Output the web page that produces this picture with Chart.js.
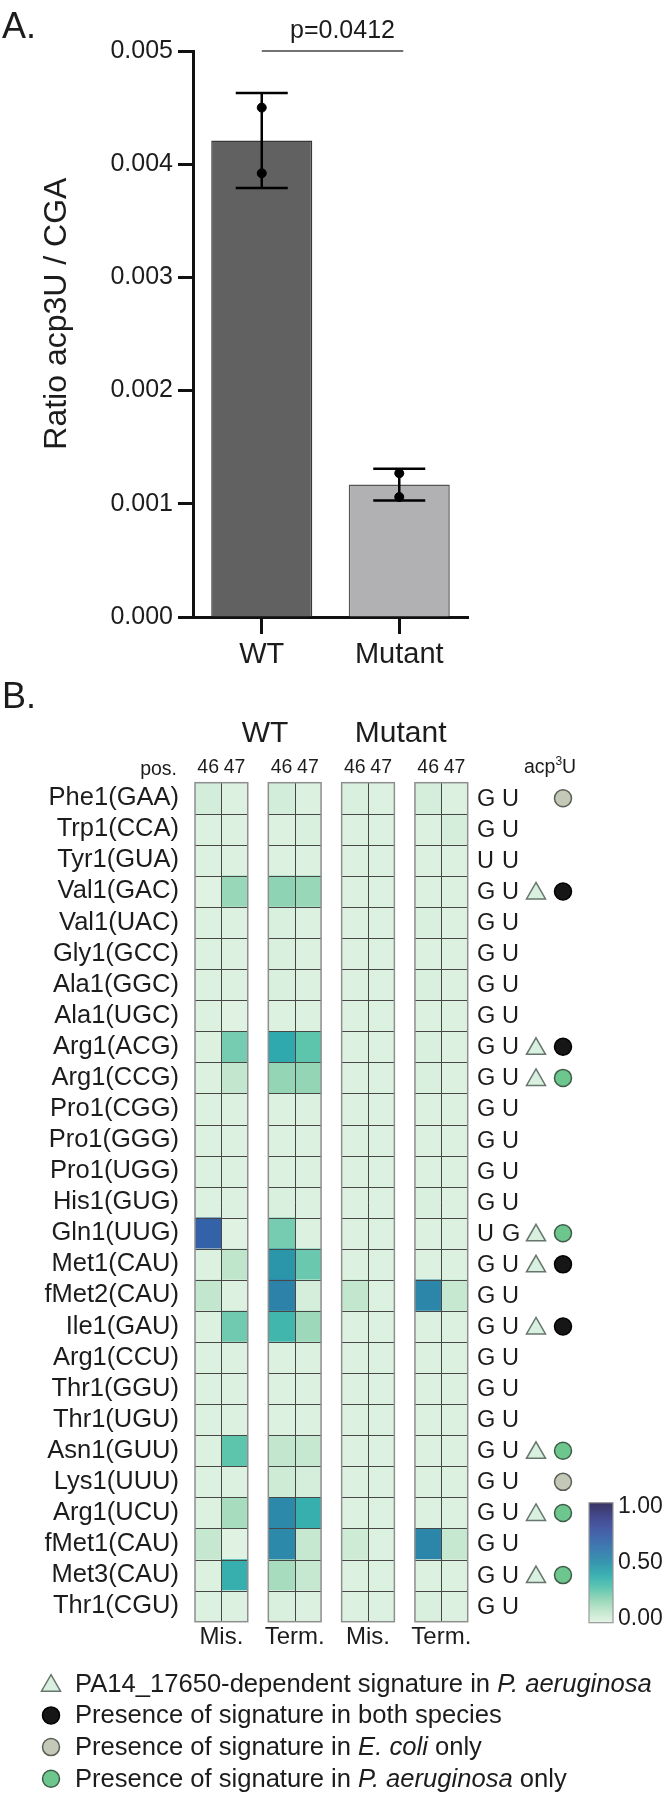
<!DOCTYPE html>
<html>
<head>
<meta charset="utf-8">
<script src="https://cdn.jsdelivr.net/npm/chart.js@4.4.1/dist/chart.umd.min.js"></script>
<style>
  body { margin: 0; background: #fff; }
  #wrap { position: relative; width: 669px; height: 1800px; }
  canvas { position: absolute; left: 0; }
  #ratioChart { top: 0; }
  #heatChart { top: 680px; }
</style>
</head>
<body>
<div id="wrap">
  <canvas id="ratioChart" width="669" height="680"></canvas>
  <canvas id="heatChart" width="669" height="1120"></canvas>
</div>
<script>
// ---- panel A data ----
const groups = ['WT', 'Mutant'];
const ratioMean = [0.00421, 0.00117];
const ratioSD = [0.00042, 0.00014];
const repWT = [0.00450, 0.00392];
const repMutant = [0.00127, 0.00106];
const pLabel = 'p=0.0412';
const yTitleA = 'Ratio acp3U / CGA';

// ---- panel B data ----
const trnaLabels = ['Phe1(GAA)', 'Trp1(CCA)', 'Tyr1(GUA)', 'Val1(GAC)', 'Val1(UAC)', 'Gly1(GCC)',
  'Ala1(GGC)', 'Ala1(UGC)', 'Arg1(ACG)', 'Arg1(CCG)', 'Pro1(CGG)', 'Pro1(GGG)', 'Pro1(UGG)',
  'His1(GUG)', 'Gln1(UUG)', 'Met1(CAU)', 'fMet2(CAU)', 'Ile1(GAU)', 'Arg1(CCU)', 'Thr1(GGU)',
  'Thr1(UGU)', 'Asn1(GUU)', 'Lys1(UUU)', 'Arg1(UCU)', 'fMet1(CAU)', 'Met3(CAU)', 'Thr1(CGU)'];
const conditions = ['WT', 'Mutant'];
const readouts = ['Mis.', 'Term.'];
const positions = ['46', '47'];

const wtMis46 = [0.05, 0.02, 0.02, 0.01, 0.02, 0.02, 0.02, 0.02, 0.02, 0.02, 0.02, 0.02, 0.02, 0.02, 0.70, 0.02, 0.09, 0.02, 0.02, 0.02, 0.02, 0.02, 0.02, 0.02, 0.08, 0.02, 0.02];
const wtMis47 = [0.02, 0.02, 0.02, 0.18, 0.02, 0.02, 0.02, 0.01, 0.24, 0.09, 0.02, 0.02, 0.02, 0.02, 0.01, 0.10, 0.02, 0.25, 0.02, 0.02, 0.02, 0.28, 0.02, 0.15, 0.01, 0.38, 0.02];
const wtTerm46 = [0.05, 0.02, 0.02, 0.20, 0.03, 0.03, 0.03, 0.02, 0.41, 0.19, 0.02, 0.02, 0.02, 0.03, 0.24, 0.48, 0.56, 0.35, 0.02, 0.02, 0.02, 0.09, 0.06, 0.53, 0.53, 0.15, 0.03];
const wtTerm47 = [0.02, 0.03, 0.02, 0.18, 0.02, 0.02, 0.02, 0.02, 0.28, 0.19, 0.02, 0.02, 0.02, 0.02, 0.02, 0.26, 0.04, 0.17, 0.02, 0.02, 0.02, 0.08, 0.04, 0.38, 0.08, 0.08, 0.02];
const mutMis46 = [0.03, 0.02, 0.02, 0.02, 0.02, 0.02, 0.02, 0.02, 0.02, 0.02, 0.02, 0.02, 0.02, 0.02, 0.02, 0.02, 0.09, 0.02, 0.02, 0.02, 0.02, 0.02, 0.02, 0.02, 0.06, 0.02, 0.02];
const mutMis47 = [0.02, 0.02, 0.02, 0.02, 0.02, 0.02, 0.02, 0.02, 0.02, 0.02, 0.02, 0.02, 0.02, 0.02, 0.02, 0.02, 0.02, 0.02, 0.02, 0.02, 0.02, 0.02, 0.02, 0.02, 0.02, 0.02, 0.02];
const mutTerm46 = [0.04, 0.02, 0.02, 0.02, 0.03, 0.02, 0.03, 0.02, 0.03, 0.03, 0.02, 0.02, 0.02, 0.03, 0.02, 0.02, 0.54, 0.02, 0.02, 0.02, 0.02, 0.02, 0.02, 0.02, 0.54, 0.02, 0.03];
const mutTerm47 = [0.02, 0.04, 0.02, 0.02, 0.02, 0.02, 0.02, 0.02, 0.02, 0.02, 0.02, 0.02, 0.02, 0.02, 0.02, 0.02, 0.08, 0.02, 0.02, 0.02, 0.02, 0.02, 0.02, 0.02, 0.08, 0.02, 0.02];

// bases at 46/47
const baseLabels = ['GU', 'GU', 'UU', 'GU', 'GU', 'GU', 'GU', 'GU', 'GU', 'GU', 'GU', 'GU', 'GU',
  'GU', 'UG', 'GU', 'GU', 'GU', 'GU', 'GU', 'GU', 'GU', 'GU', 'GU', 'GU', 'GU', 'GU'];
// 1 = PA14_17650-dependent signature
const depSignature = [0, 0, 0, 1, 0, 0, 0, 0, 1, 1, 0, 0, 0, 0, 1, 1, 0, 1, 0, 0, 0, 1, 0, 1, 0, 1, 0];
// presence of signature: both / ecoli / pa
const presence = ['ecoli', '', '', 'both', '', '', '', '', 'both', 'pa', '', '', '', '', 'pa', 'both',
  '', 'both', '', '', '', 'pa', 'ecoli', 'pa', '', 'pa', ''];
const colorbarTicks = [0, 0.5, 1];

const legendLines = [
  { sym: 'tri', parts: [['PA14_17650-dependent signature in ', false], ['P. aeruginosa', true]] },
  { sym: 'both', parts: [['Presence of signature in both species', false]] },
  { sym: 'ecoli', parts: [['Presence of signature in ', false], ['E. coli', true], [' only', false]] },
  { sym: 'pa', parts: [['Presence of signature in ', false], ['P. aeruginosa', true], [' only', false]] }
];

const FONT = '"Liberation Sans", Arial, Helvetica, sans-serif';
const INK = '#1c1c1c';
Chart.defaults.font.family = FONT;
Chart.defaults.color = INK;

// ---------- Panel A ----------
const errorBars = {
  id: 'errorBars',
  afterDatasetDraw(chart, args) {
    if (args.meta.type !== 'bar') return;
    const { ctx, scales: { x, y } } = chart;
    ctx.save();
    ctx.strokeStyle = '#000';
    ctx.lineWidth = 2.5;
    groups.forEach((g, i) => {
      const px = x.getPixelForValue(i);
      const top = y.getPixelForValue(ratioMean[i] + ratioSD[i]);
      const bot = y.getPixelForValue(ratioMean[i] - ratioSD[i]);
      ctx.beginPath();
      ctx.moveTo(px, top); ctx.lineTo(px, bot);
      ctx.moveTo(px - 26, top); ctx.lineTo(px + 26, top);
      ctx.moveTo(px - 26, bot); ctx.lineTo(px + 26, bot);
      ctx.stroke();
    });
    ctx.restore();
  },
  afterDraw(chart) {
    const { ctx, scales: { x, y } } = chart;
    const ly = y.getPixelForValue(0.005);
    const x1 = x.getPixelForValue(0), x2 = x.getPixelForValue(1) + 4;
    ctx.save();
    ctx.strokeStyle = '#444';
    ctx.lineWidth = 1.5;
    ctx.beginPath(); ctx.moveTo(x1, ly); ctx.lineTo(x2, ly); ctx.stroke();
    ctx.fillStyle = INK;
    ctx.font = '25px ' + FONT;
    ctx.textAlign = 'center';
    ctx.textBaseline = 'alphabetic';
    ctx.fillText(pLabel, (x1 + x2) / 2 + 10, ly - 13);
    ctx.font = '36px ' + FONT;
    ctx.textAlign = 'left';
    ctx.fillText('A.', 2, 38);
    // y axis title, a little above the plot centre as in the figure
    ctx.translate(57, y.getPixelForValue(0.00268));
    ctx.rotate(-Math.PI / 2);
    ctx.font = '32px ' + FONT;
    ctx.textAlign = 'center';
    ctx.textBaseline = 'middle';
    ctx.fillText(yTitleA, 0, 0);
    ctx.restore();
  }
};

new Chart(document.getElementById('ratioChart'), {
  type: 'bar',
  data: {
    labels: groups,
    datasets: [{
      type: 'bar',
      data: ratioMean,
      backgroundColor: ['#616161', '#b1b1b3'],
      borderColor: ['#383838', '#555555'],
      borderWidth: 1.5,
      barPercentage: 0.735,
      categoryPercentage: 1,
      order: 2
    }, {
      type: 'scatter',
      data: repWT.map(v => ({ x: 'WT', y: v })).concat(repMutant.map(v => ({ x: 'Mutant', y: v }))),
      backgroundColor: '#000',
      borderColor: '#000',
      pointRadius: 4.5,
      order: 1
    }]
  },
  options: {
    responsive: false,
    animation: false,
    layout: { padding: { left: 0, top: 51, right: 201, bottom: 0 } },
    plugins: { legend: { display: false }, tooltip: { enabled: false } },
    scales: {
      x: {
        type: 'category',
        offset: true,
        grid: { offset: false, drawOnChartArea: false, drawTicks: true, tickLength: 17, tickWidth: 3, tickColor: '#111' },
        border: { color: '#111', width: 3 },
        ticks: { font: { size: 29 }, color: INK, padding: 4 },
        afterFit: s => { s.height = 63; }
      },
      y: {
        min: 0, max: 0.005,
        ticks: { stepSize: 0.001, callback: v => v.toFixed(3), font: { size: 25 }, color: INK, padding: 5 },
        grid: { drawOnChartArea: false, drawTicks: true, tickLength: 15, tickWidth: 3, tickColor: '#111' },
        border: { color: '#111', width: 3 },
        afterFit: s => { s.width = 193; }
      }
    }
  },
  plugins: [errorBars]
});

// ---------- Panel B ----------
const columns = [wtMis46, wtMis47, wtTerm46, wtTerm47, mutMis46, mutMis47, mutTerm46, mutTerm47];
const BLOCK_GAP = 0.78;
const colStart = c => Math.floor(c / 2) * (2 + BLOCK_GAP) + (c % 2);
const nBlocks = conditions.length * readouts.length;
const xMax = nBlocks * 2 + (nBlocks - 1) * BLOCK_GAP;

const cmapStops = [
  [0.00, '#e4f4e6'], [0.10, '#bfe5cb'], [0.20, '#8ed3b3'], [0.30, '#52c1ac'],
  [0.40, '#2fabae'], [0.50, '#2a90a9'], [0.60, '#2f78ab'], [0.70, '#3462a8'],
  [0.80, '#3a4e9c'], [0.90, '#363a80'], [1.00, '#2c2758']
];
function hexRgb(h) {
  return [parseInt(h.slice(1, 3), 16), parseInt(h.slice(3, 5), 16), parseInt(h.slice(5, 7), 16)];
}
function cmap(v) {
  v = Math.max(0, Math.min(1, v));
  for (let i = 1; i < cmapStops.length; i++) {
    if (v <= cmapStops[i][0]) {
      const [v0, c0] = cmapStops[i - 1], [v1, c1] = cmapStops[i];
      const t = (v - v0) / (v1 - v0);
      const a = hexRgb(c0), b = hexRgb(c1);
      return 'rgb(' + a.map((ch, k) => Math.round(ch + (b[k] - ch) * t)).join(',') + ')';
    }
  }
  return cmapStops[cmapStops.length - 1][1];
}

function drawTriangle(ctx, cx, cy) {
  ctx.beginPath();
  ctx.moveTo(cx, cy - 9);
  ctx.lineTo(cx + 9.5, cy + 7.5);
  ctx.lineTo(cx - 9.5, cy + 7.5);
  ctx.closePath();
  ctx.fillStyle = '#d9efe0';
  ctx.fill();
  ctx.strokeStyle = '#66766c';
  ctx.lineWidth = 1.5;
  ctx.stroke();
}
function drawDot(ctx, cx, cy, kind) {
  const fill = { both: '#161616', ecoli: '#c3c9b6', pa: '#6cc68e' }[kind];
  const edge = { both: '#000', ecoli: '#5a5f55', pa: '#3f5c48' }[kind];
  ctx.beginPath();
  ctx.arc(cx, cy, 8.5, 0, Math.PI * 2);
  ctx.fillStyle = fill;
  ctx.fill();
  ctx.strokeStyle = edge;
  ctx.lineWidth = 1.5;
  ctx.stroke();
}

const heatDecor = {
  id: 'heatDecor',
  afterDatasetsDraw(chart) {
    const { ctx, scales: { x, y } } = chart;
    const top = y.getPixelForValue(-0.5), bottom = y.getPixelForValue(trnaLabels.length - 0.5);
    ctx.save();
    for (let b = 0; b < nBlocks; b++) {
      const x0 = x.getPixelForValue(colStart(b * 2));
      const xm = x.getPixelForValue(colStart(b * 2) + 1);
      const x1 = x.getPixelForValue(colStart(b * 2) + 2);
      ctx.strokeStyle = '#474747';
      ctx.lineWidth = 1;
      ctx.beginPath();
      for (let r = 1; r < trnaLabels.length; r++) {
        const ry = Math.round(y.getPixelForValue(r - 0.5)) + 0.5;
        ctx.moveTo(x0, ry); ctx.lineTo(x1, ry);
      }
      ctx.moveTo(Math.round(xm) + 0.5, top); ctx.lineTo(Math.round(xm) + 0.5, bottom);
      ctx.stroke();
      ctx.strokeStyle = '#8e8e8e';
      ctx.lineWidth = 1.5;
      ctx.strokeRect(x0, top, x1 - x0, bottom - top);
    }
    ctx.restore();
  },
  afterDraw(chart) {
    const { ctx, scales: { x, y } } = chart;
    const top = y.getPixelForValue(-0.5), bottom = y.getPixelForValue(trnaLabels.length - 0.5);
    ctx.save();
    ctx.fillStyle = INK;
    ctx.textBaseline = 'alphabetic';
    ctx.textAlign = 'left';
    ctx.font = '36px ' + FONT;
    ctx.fillText('B.', 2, 28);

    // condition titles
    ctx.font = '30px ' + FONT;
    ctx.textAlign = 'center';
    ctx.textBaseline = 'middle';
    conditions.forEach((c, k) => {
      const left = x.getPixelForValue(colStart(k * 4));
      const right = x.getPixelForValue(colStart(k * 4 + 3) + 1);
      ctx.fillText(c, (left + right) / 2 + (k === 0 ? 7 : -4), 54);
    });

    // position numbers
    ctx.font = '19.5px ' + FONT;
    columns.forEach((col, c) => {
      ctx.fillText(positions[c % 2], x.getPixelForValue(colStart(c) + 0.5), top - 15);
    });
    ctx.textAlign = 'right';
    ctx.fillText('pos.', 177, top - 13);
    ctx.textAlign = 'left';
    ctx.fillText('acp', 524, top - 15);
    const wAcp = ctx.measureText('acp').width;
    ctx.font = '12px ' + FONT;
    ctx.fillText('3', 524 + wAcp, top - 21);
    const w3 = ctx.measureText('3').width;
    ctx.font = '19.5px ' + FONT;
    ctx.fillText('U', 524 + wAcp + w3, top - 15);

    // readout labels below
    ctx.font = '24px ' + FONT;
    ctx.textAlign = 'center';
    for (let b = 0; b < nBlocks; b++) {
      const cx = x.getPixelForValue(colStart(b * 2) + 1);
      ctx.fillText(readouts[b % 2], cx, bottom + 16);
    }

    // bases, triangles, dots
    trnaLabels.forEach((lab, r) => {
      const cy = y.getPixelForValue(r);
      ctx.fillStyle = INK;
      ctx.font = '23.5px ' + FONT;
      ctx.textAlign = 'left';
      ctx.textBaseline = 'middle';
      ctx.fillText(baseLabels[r][0], 477, cy + 1);
      ctx.fillText(baseLabels[r][1], 502, cy + 1);
      if (depSignature[r]) drawTriangle(ctx, 536, cy);
      if (presence[r]) drawDot(ctx, 563, cy, presence[r]);
    });

    // colour bar
    const cbL = 589, cbR = 613, cbT = bottom - 119, cbB = bottom + 1;
    for (let py = cbT; py < cbB; py++) {
      ctx.fillStyle = cmap((cbB - py) / (cbB - cbT));
      ctx.fillRect(cbL, py, cbR - cbL, 1.2);
    }
    ctx.strokeStyle = '#9a9a9a';
    ctx.lineWidth = 1.2;
    ctx.strokeRect(cbL, cbT, cbR - cbL, cbB - cbT);
    ctx.fillStyle = INK;
    ctx.font = '23px ' + FONT;
    ctx.textAlign = 'left';
    colorbarTicks.forEach(t => {
      let ty = cbB - t * (cbB - cbT);
      if (t === 1) ty += 4;
      if (t === 0) ty -= 4;
      ctx.fillText(t.toFixed(2), 618, ty);
    });

    // legend
    const legTop = bottom + 62;
    legendLines.forEach((ln, i) => {
      const ly = legTop + i * 31.7;
      if (ln.sym === 'tri') drawTriangle(ctx, 51, ly); else drawDot(ctx, 51, ly, ln.sym);
      let tx = 75;
      ctx.fillStyle = INK;
      ctx.textBaseline = 'middle';
      ctx.textAlign = 'left';
      ln.parts.forEach(([txt, it]) => {
        ctx.font = (it ? 'italic ' : '') + '25.6px ' + FONT;
        ctx.fillText(txt, tx, ly + 1);
        tx += ctx.measureText(txt).width;
      });
    });
    ctx.restore();
  }
};

new Chart(document.getElementById('heatChart'), {
  type: 'bar',
  data: {
    labels: trnaLabels,
    datasets: columns.map((col, c) => ({
      data: col.map(() => [colStart(c), colStart(c) + 1]),
      backgroundColor: col.map(v => cmap(v)),
      borderWidth: 0,
      barPercentage: 1,
      categoryPercentage: 1,
      grouped: false
    }))
  },
  options: {
    indexAxis: 'y',
    responsive: false,
    animation: false,
    layout: { padding: { left: 0, top: 102.7, right: 201.3, bottom: 178.3 } },
    plugins: { legend: { display: false }, tooltip: { enabled: false } },
    scales: {
      x: { type: 'linear', min: 0, max: xMax, display: false },
      y: {
        type: 'category',
        offset: true,
        grid: { display: false, drawTicks: false },
        border: { display: false },
        ticks: { font: { size: 25.5 }, color: INK, padding: 16, autoSkip: false },
        afterFit: s => { s.width = 195; }
      }
    }
  },
  plugins: [heatDecor]
});
</script>
</body>
</html>
